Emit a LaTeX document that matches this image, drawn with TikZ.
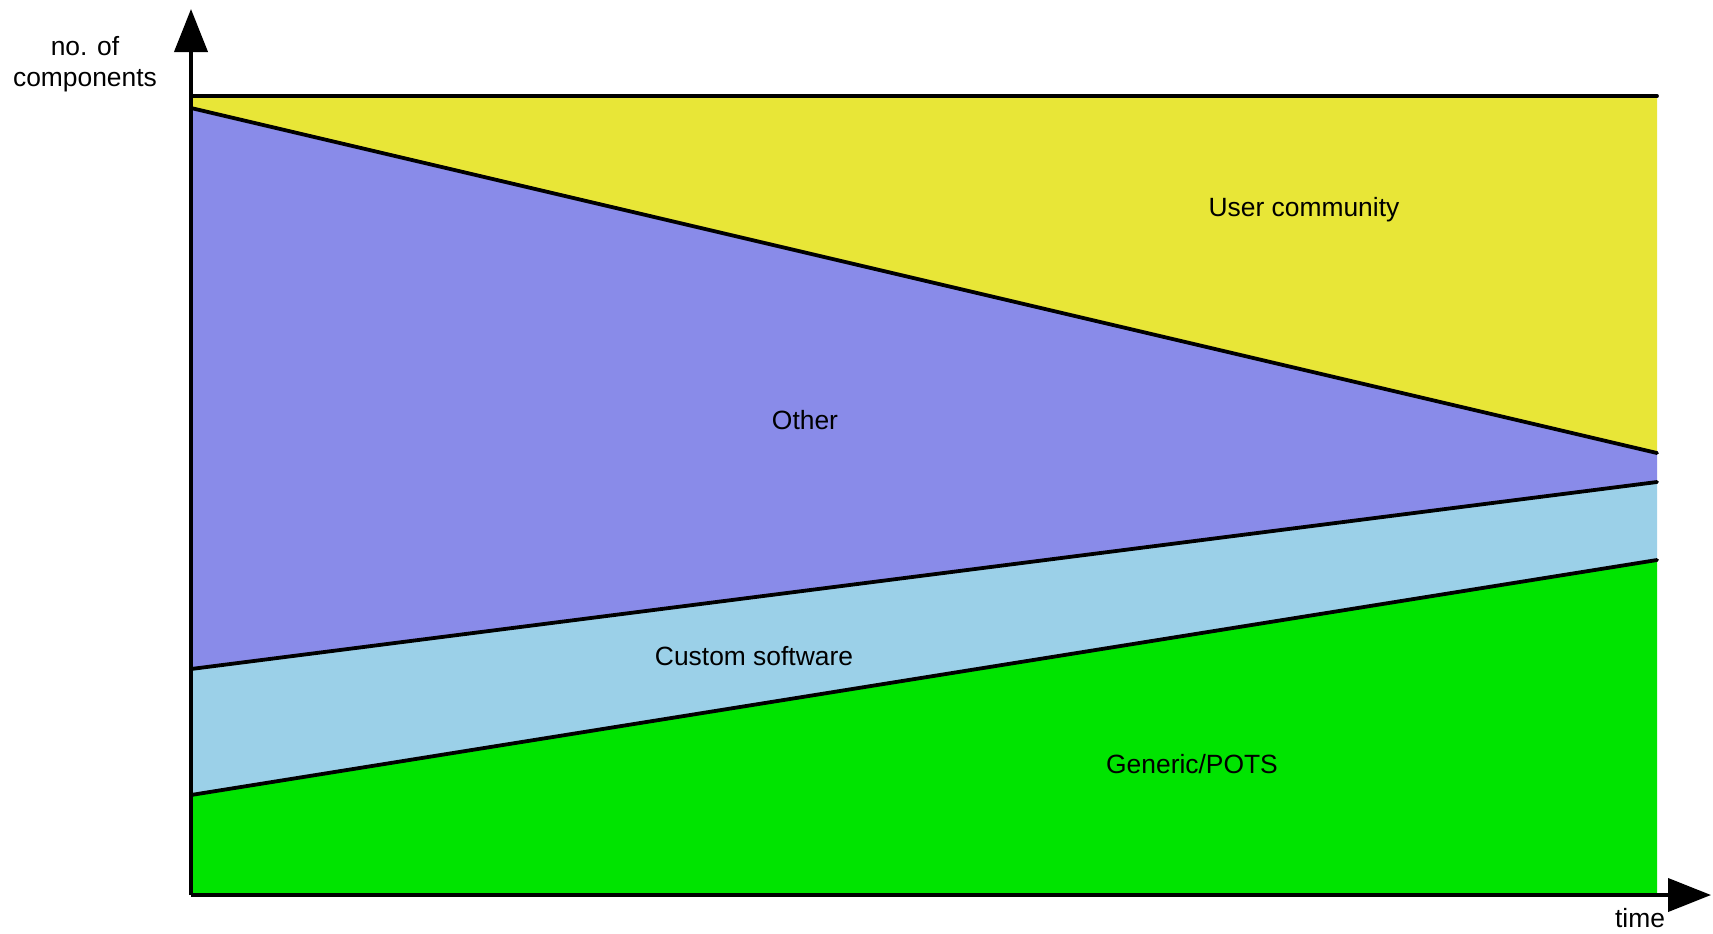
\documentclass[tikz,border=0pt]{standalone}
\usepackage{fontspec}
\setmainfont{Liberation Sans}
\usepackage{xcolor}
\usepackage{tikz}
\usetikzlibrary{arrows.meta,positioning}

\definecolor{usercol}{RGB}{232,230,55}
\definecolor{othercol}{RGB}{137,139,233}
\definecolor{customcol}{RGB}{155,208,232}
\definecolor{genericcol}{RGB}{0,228,0}

\tikzset{
  axis/.style={line width=2pt, -{Triangle[length=21.5pt,width=16.5pt]}},
  border/.style={line width=1.9pt, line cap=round},
  lbl/.style={font=\fontsize{13.2}{15.5}\selectfont, inner sep=0pt, align=center}
}

\begin{document}
\begin{tikzpicture}[x=0.5pt, y=-0.5pt]
         \useasboundingbox (0,0) rectangle (1713,933);
         % corners
         \coordinate (o) at (191,895);
         \coordinate (ytip) at (191,9);
         \coordinate (xtip) at (1711,895);
         \coordinate (tl) at (191,96);
         \coordinate (tr) at (1657,96);
         \coordinate (ul) at (191,108);
         \coordinate (ur) at (1657,453);
         \coordinate (cl) at (191,669);
         \coordinate (cr) at (1657,482);
         \coordinate (gl) at (191,795);
         \coordinate (gr) at (1657,560);
         \coordinate (br) at (1657,895);
         % bands
         \fill[usercol] (tl) -- (tr) -- (ur) -- (ul) -- cycle;
         \fill[othercol] (ul) -- (ur) -- (cr) -- (cl) -- cycle;
         \fill[customcol] (cl) -- (cr) -- (gr) -- (gl) -- cycle;
         \fill[genericcol] (gl) -- (gr) -- (br) -- (o) -- cycle;
         \draw[border] (tl) -- (tr);
         \draw[border] (ul) -- (ur);
         \draw[border] (cl) -- (cr);
         \draw[border] (gl) -- (gr);
         % axes
         \draw[axis] (o) -- (ytip);
         \draw[axis] (o) -- (xtip);
         % nodes
         \node[lbl] (ylabel) at (85,64) {no. of\\components};
         \node[lbl] (xlabel) at (1640,918) {time};
         \node[lbl] (user) at (1304,210) {User community};
         \node[lbl] (other) at (805,420) {Other};
         \node[lbl] (custom) at (754,656) {Custom software};
         \node[lbl] (generic) at (1192,764) {Generic/POTS};
\end{tikzpicture}
\end{document}
